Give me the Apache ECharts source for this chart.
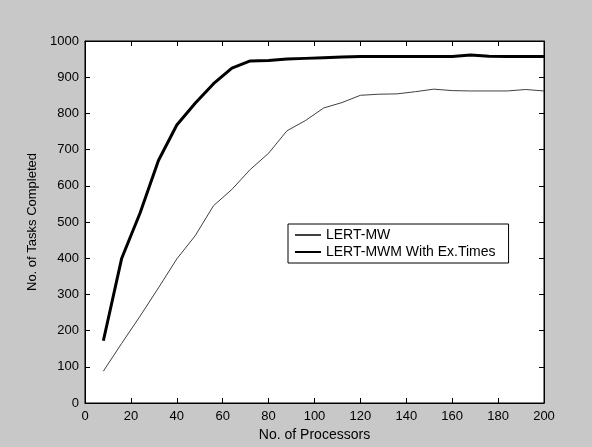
<!DOCTYPE html>
<html>
<head>
<meta charset="utf-8">
<script src="https://cdn.jsdelivr.net/npm/echarts@6/dist/echarts.min.js"></script>
<style>
html,body{margin:0;padding:0;background:#c8c8c8;}
#chart{width:592px;height:447px;}
</style>
</head>
<body>
<div id="chart"></div>
<script>
var processors = [8,16,24,32,40,48,56,64,72,80,88,96,104,112,120,128,136,144,152,160,168,176,184,192,200];
var lertMW = [88,165,240,318,398,462,545,590,645,690,752,780,815,830,850,853,854,860,867,863,862,862,862,866,862];
var lertMWM = [172,400,525,670,768,828,882,925,945,946,950,952,954,956,957,957,957,957,957,957,961,958,957,957,957];
var xTicks = [0,20,40,60,80,100,120,140,160,180,200];
var yTicks = [0,100,200,300,400,500,600,700,800,900,1000];

var font = 'Liberation Sans, Arial, Helvetica, sans-serif';
function pairs(xs, ys){ return xs.map(function(x,i){ return [x, ys[i]]; }); }

var chart = echarts.init(document.getElementById('chart'), null, {renderer:'canvas'});
chart.setOption({
  backgroundColor:'#c8c8c8',
  animation:false,
  textStyle:{fontFamily:font},
  grid:{left:85, top:41, right:48, bottom:44, show:true, backgroundColor:'#fff', borderColor:'#000', borderWidth:1},
  xAxis:[
    {type:'value', min:xTicks[0], max:xTicks[xTicks.length-1], interval:20, position:'bottom',
      name:'No. of Processors', nameLocation:'middle', nameGap:24,
      nameTextStyle:{color:'#000', fontSize:14, fontFamily:font},
      axisLine:{show:true, onZero:false, lineStyle:{color:'#000', width:1}},
      axisTick:{show:true, inside:true, length:5, lineStyle:{color:'#000', width:1}},
      splitLine:{show:false},
      axisLabel:{color:'#000', fontSize:13, fontFamily:font, margin:7}},
    {type:'value', min:xTicks[0], max:xTicks[xTicks.length-1], interval:20, position:'top',
      axisLine:{show:true, onZero:false, lineStyle:{color:'#000', width:1}},
      axisTick:{show:true, inside:true, length:5, lineStyle:{color:'#000', width:1}},
      splitLine:{show:false},
      axisLabel:{show:false}}
  ],
  yAxis:[
    {type:'value', min:yTicks[0], max:yTicks[yTicks.length-1], interval:100, position:'left',
      name:'No. of Tasks Completed', nameLocation:'middle', nameGap:43, nameRotate:90,
      nameTextStyle:{color:'#000', fontSize:13, fontFamily:font},
      axisLine:{show:true, onZero:false, lineStyle:{color:'#000', width:1}},
      axisTick:{show:true, inside:true, length:5, lineStyle:{color:'#000', width:1}},
      splitLine:{show:false},
      axisLabel:{color:'#000', fontSize:13, fontFamily:font, margin:6, formatter:function(v){ return String(v); }}},
    {type:'value', min:yTicks[0], max:yTicks[yTicks.length-1], interval:100, position:'right',
      axisLine:{show:true, onZero:false, lineStyle:{color:'#000', width:1}},
      axisTick:{show:true, inside:true, length:5, lineStyle:{color:'#000', width:1}},
      splitLine:{show:false},
      axisLabel:{show:false}}
  ],
  legend:{
    left:288, top:224, orient:'vertical', itemWidth:26, itemHeight:10, itemGap:3,
    padding:[4,13,4,6],
    backgroundColor:'#fff', borderColor:'#000', borderWidth:1, borderRadius:0,
    itemStyle:{color:'rgba(0,0,0,0)', borderColor:'rgba(0,0,0,0)', borderWidth:0},
    textStyle:{color:'#000', fontSize:14, fontFamily:font},
    data:['LERT-MW','LERT-MWM With Ex.Times']
  },
  series:[
    {name:'LERT-MW', type:'line', symbol:'none', xAxisIndex:0, yAxisIndex:0, data:pairs(processors, lertMW),
     lineStyle:{color:'#404040', width:1}, itemStyle:{color:'#404040'}},
    {name:'LERT-MWM With Ex.Times', type:'line', symbol:'none', xAxisIndex:0, yAxisIndex:0, data:pairs(processors, lertMWM),
     lineStyle:{color:'#000', width:3}, itemStyle:{color:'#000'}}
  ]
});
</script>
</body>
</html>
